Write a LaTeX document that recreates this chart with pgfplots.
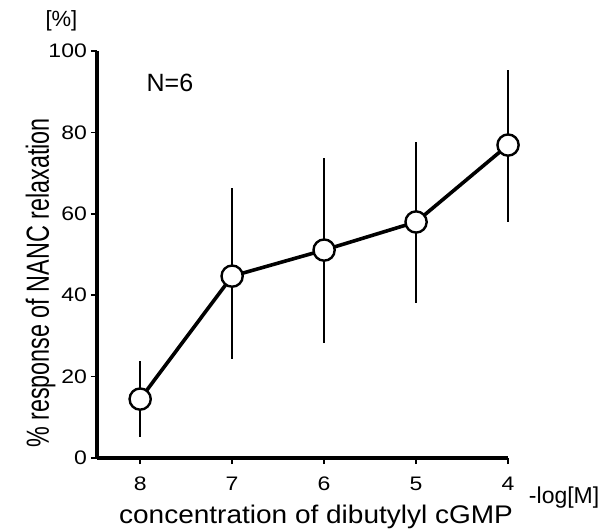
\documentclass[border=0pt]{standalone}
\usepackage{graphicx}
\usepackage{pgfplots}
\pgfplotsset{compat=1.18}
\usepackage{fontspec}
\setmainfont{Liberation Sans}
\begin{document}
\begin{tikzpicture}
\begin{axis}[
  width=205.5pt, height=203.5pt, scale only axis,
  x dir=reverse,
  xmin=4, xmax=8.47, ymin=0, ymax=100,
  axis lines*=left,
  axis line style={line width=1.8pt},
  xtick={4,5,6,7,8}, ytick={0,20,40,60,80,100},
  tick align=outside, major tick length=3pt,
  tick style={line width=0.8pt, black},
  ticklabel style={font=\fontsize{11.5}{13}\selectfont},
  xticklabel={\scalebox{1}[0.85]{\pgfmathprintnumber{\tick}}},
  yticklabel={\scalebox{1}[0.85]{\pgfmathprintnumber{\tick}}},
  xticklabel style={yshift=-3pt},
  yticklabel style={xshift=1.5pt},
  /pgf/number format/assume math mode=true,
  xlabel={\scalebox{1}[0.91]{concentration of dibutylyl cGMP}},
  ylabel={\scalebox{0.73}[1]{\% response of NANC relaxation}},
  xlabel style={font=\fontsize{14}{16}\selectfont, at={(rel axis cs:0.533,-0.145)}, anchor=center},
  ylabel style={font=\fontsize{16}{18}\selectfont, at={(rel axis cs:-0.137,0.43)}, anchor=center},
  clip=false,
]
\addplot[forget plot, only marks, mark=none,
  error bars/.cd, y dir=both, y explicit,
  error bar style={line width=0.8pt, black}, error mark=none]
  coordinates {
  (8,14.5) +- (0,9.3)
  (7,44.7) += (0,21.6) -= (0,20.4)
  (6,51.1) += (0,22.6) -= (0,22.8)
  (5,58.0) += (0,19.6) -= (0,19.9)
  (4,76.9) += (0,18.4) -= (0,18.9)
};
\addplot[black, line width=1.8pt, mark=*, mark size=5.3pt,
  mark options={fill=white, line width=1.2pt}]
  coordinates {(8,14.5) (7,44.7) (6,51.1) (5,58.0) (4,76.9)};
\node[font=\fontsize{12.5}{14}\selectfont] at (axis cs:7.676,92.1) {N=6};
\node[font=\fontsize{11.5}{13}\selectfont] at (axis cs:3.39,-9.6) {-log[M]};
\node[font=\fontsize{11}{13}\selectfont] at (axis cs:8.856,107.4) {[\%]};
\coordinate (bl) at (axis cs:9.524,-17.94);
\coordinate (tr) at (axis cs:3.011,112.53);
\end{axis}
\pgfresetboundingbox
\path[use as bounding box] (bl) rectangle (tr);
\end{tikzpicture}
\end{document}
